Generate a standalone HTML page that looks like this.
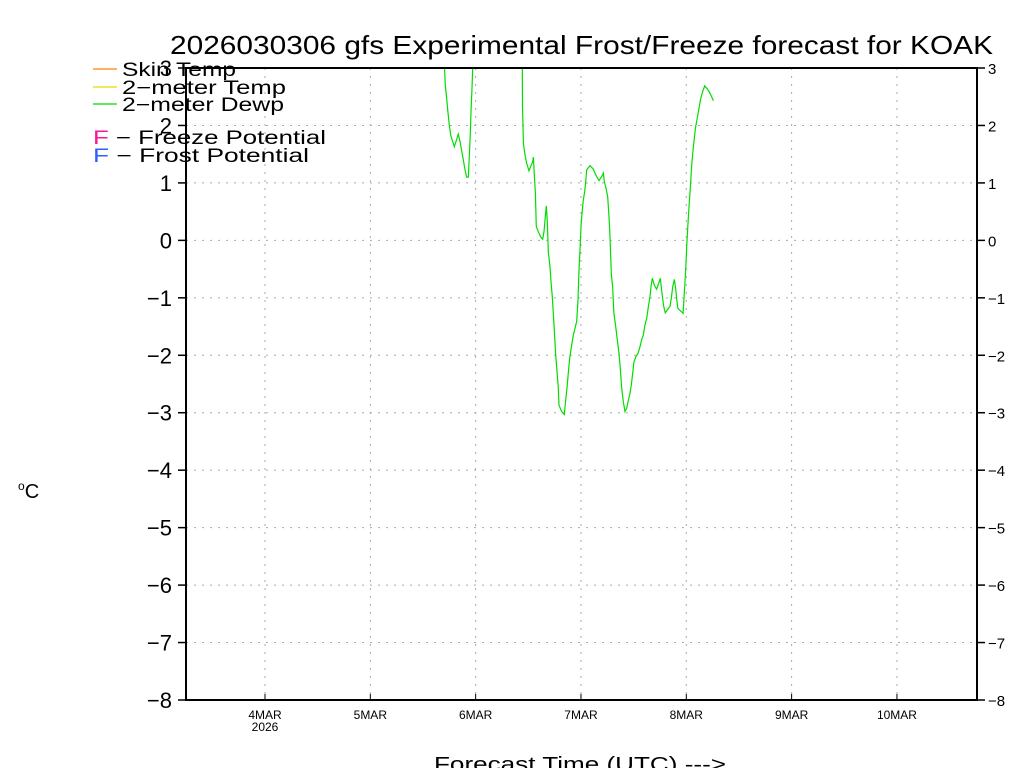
<!DOCTYPE html>
<html><head><meta charset="utf-8"><style>
body{margin:0;background:#fff;}
svg{display:block;font-family:"Liberation Sans",sans-serif;}
</style></head><body>
<svg id="chart" width="1024" height="768" viewBox="0 0 1024 768">
<defs><clipPath id="plotclip"><rect x="186" y="68" width="791" height="632"/></clipPath></defs>
<text x="170" y="54" font-size="26" textLength="823" lengthAdjust="spacingAndGlyphs" fill="#000">2026030306 gfs Experimental Frost/Freeze forecast for KOAK</text>
<g id="grid"></g>
<g id="series" clip-path="url(#plotclip)"></g>
<g id="axes"></g>
<g font-size="19">
 <line x1="93" y1="69" x2="117" y2="69" stroke="#ff8000" stroke-width="1.2"/>
 <text x="122" y="76" textLength="114" lengthAdjust="spacingAndGlyphs">Skin Temp</text>
 <line x1="93" y1="87" x2="117" y2="87" stroke="#e6dc00" stroke-width="1.2"/>
 <text x="122" y="94" textLength="164" lengthAdjust="spacingAndGlyphs">2−meter Temp</text>
 <line x1="93" y1="104" x2="117" y2="104" stroke="#00dd00" stroke-width="1.2"/>
 <text x="122" y="111" textLength="162" lengthAdjust="spacingAndGlyphs">2−meter Dewp</text>
 <text x="93" y="144" textLength="233" lengthAdjust="spacingAndGlyphs"><tspan fill="#ff1493">F</tspan> − Freeze Potential</text>
 <text x="93" y="162" textLength="216" lengthAdjust="spacingAndGlyphs"><tspan fill="#3060ff">F</tspan> − Frost Potential</text>
</g>
<text x="18" y="498" font-size="20"><tspan font-size="12" dy="-8">o</tspan><tspan dy="8">C</tspan></text>
<text x="434" y="771" font-size="20" textLength="292" lengthAdjust="spacingAndGlyphs">Forecast Time (UTC) ---&gt;</text>
</svg>
<script>
const yTicks=[3,2,1,0,-1,-2,-3,-4,-5,-6,-7,-8];
const xTickDays=[4,5,6,7,8,9,10];
const xTickLabels=["4MAR","5MAR","6MAR","7MAR","8MAR","9MAR","10MAR"];
const dewDays=[5.69,5.712,5.725,5.737,5.750,5.763,5.782,5.797,5.813,5.835,5.851,5.867,5.883,5.899,5.915,5.930,5.940,5.949,5.956,5.965,5.972,5.99,6.42,6.443,6.445,6.453,6.469,6.485,6.507,6.526,6.542,6.548,6.557,6.567,6.576,6.595,6.618,6.637,6.649,6.661,6.671,6.680,6.690,6.706,6.715,6.728,6.744,6.760,6.772,6.785,6.791,6.817,6.842,6.855,6.867,6.880,6.893,6.912,6.927,6.943,6.959,6.972,6.981,6.991,7.000,7.010,7.022,7.035,7.045,7.054,7.086,7.117,7.140,7.171,7.197,7.212,7.222,7.238,7.254,7.266,7.276,7.288,7.301,7.313,7.330,7.345,7.361,7.373,7.386,7.402,7.418,7.434,7.450,7.465,7.478,7.491,7.503,7.522,7.541,7.560,7.576,7.592,7.608,7.624,7.640,7.655,7.665,7.677,7.696,7.718,7.737,7.753,7.769,7.785,7.801,7.820,7.845,7.858,7.871,7.887,7.900,7.910,7.919,7.941,7.970,7.979,7.989,7.998,8.004,8.013,8.023,8.032,8.042,8.051,8.067,8.086,8.102,8.118,8.137,8.156,8.175,8.194,8.219,8.238,8.257];
const dewValues=[3.6,2.70,2.47,2.24,2.01,1.83,1.72,1.63,1.72,1.85,1.72,1.57,1.40,1.23,1.10,1.10,1.46,1.86,2.24,2.65,3.0,3.8,3.8,3.0,2.33,1.69,1.49,1.34,1.21,1.30,1.37,1.45,1.14,0.82,0.24,0.15,0.06,0.02,0.15,0.41,0.60,0.33,-0.20,-0.46,-0.72,-0.98,-1.47,-2.00,-2.28,-2.57,-2.87,-2.98,-3.03,-2.78,-2.57,-2.31,-2.05,-1.82,-1.65,-1.53,-1.41,-1.04,-0.52,-0.17,0.24,0.47,0.70,0.85,1.02,1.23,1.30,1.24,1.14,1.04,1.11,1.17,1.02,0.91,0.76,0.41,0.06,-0.57,-0.83,-1.27,-1.50,-1.73,-1.97,-2.23,-2.55,-2.81,-2.98,-2.92,-2.78,-2.66,-2.52,-2.31,-2.11,-2.02,-1.97,-1.85,-1.73,-1.65,-1.47,-1.36,-1.15,-0.98,-0.81,-0.66,-0.78,-0.85,-0.75,-0.66,-0.92,-1.15,-1.26,-1.21,-1.15,-1.01,-0.81,-0.68,-0.86,-1.04,-1.18,-1.22,-1.27,-0.98,-0.69,-0.37,-0.11,0.21,0.50,0.76,1.02,1.31,1.63,1.95,2.10,2.27,2.47,2.59,2.69,2.65,2.58,2.51,2.43];

const NS="http://www.w3.org/2000/svg";
const X0=186,X1=977,Y0=68,Y1=700,D0=3.25,D1=10.76,V0=3,V1=-8;
function xs(d){return X0+(d-D0)/(D1-D0)*(X1-X0);}
function ys(v){return Y0+(V0-v)/(V0-V1)*(Y1-Y0);}
function mk(tag,attrs,parent){const e=document.createElementNS(NS,tag);for(const k in attrs)e.setAttribute(k,attrs[k]);parent.appendChild(e);return e;}
const grid=document.getElementById('grid'),axes=document.getElementById('axes'),series=document.getElementById('series');
yTicks.forEach(v=>{
 const y=ys(v);
 if(v<3&&v>-8){const g=mk('line',{x1:X0,x2:X1,y1:y,y2:y,stroke:'#aaa','stroke-dasharray':'2,6'},grid);
 
 }
 const t1=mk('line',{x1:X0-8,x2:X0,y1:y,y2:y,stroke:'#000','stroke-width':1.5},axes);
 
 
 const t2=mk('line',{x1:X1,x2:X1+8,y1:y,y2:y,stroke:'#000','stroke-width':1.5},axes);
 
 
 const lab=v<0?'−'+(-v):String(v);
 const l=mk('text',{x:172,y:y+8,'font-size':22,'text-anchor':'end'},axes);l.textContent=lab;
 
 
 const r=mk('text',{x:988,y:y+6,'font-size':15},axes);r.textContent=lab;
 
 
});
xTickDays.forEach((d,i)=>{
 const x=xs(d);
 const g=mk('line',{x1:x,x2:x,y1:Y0,y2:Y1,stroke:'#aaa','stroke-dasharray':'2,6'},grid);
 
 
 const t=mk('line',{x1:x,x2:x,y1:Y1-6,y2:Y1,stroke:'#000'},axes);
 
 
 const l=mk('text',{x:x,y:719,'font-size':12,'text-anchor':'middle'},axes);l.textContent=xTickLabels[i];
 
 
});
const yr=mk('text',{x:xs(4),y:731,'font-size':12,'text-anchor':'middle'},axes);yr.textContent='2026';


const frame=mk('rect',{x:X0,y:Y0,width:X1-X0,height:Y1-Y0,fill:'none',stroke:'#000','stroke-width':2},axes);


const pts=dewDays.map((d,i)=>xs(d).toFixed(1)+','+ys(dewValues[i]).toFixed(1)).join(' ');
const pl=mk('polyline',{points:pts,fill:'none',stroke:'#00dd00','stroke-width':1.2},series);


</script>
</body></html>
